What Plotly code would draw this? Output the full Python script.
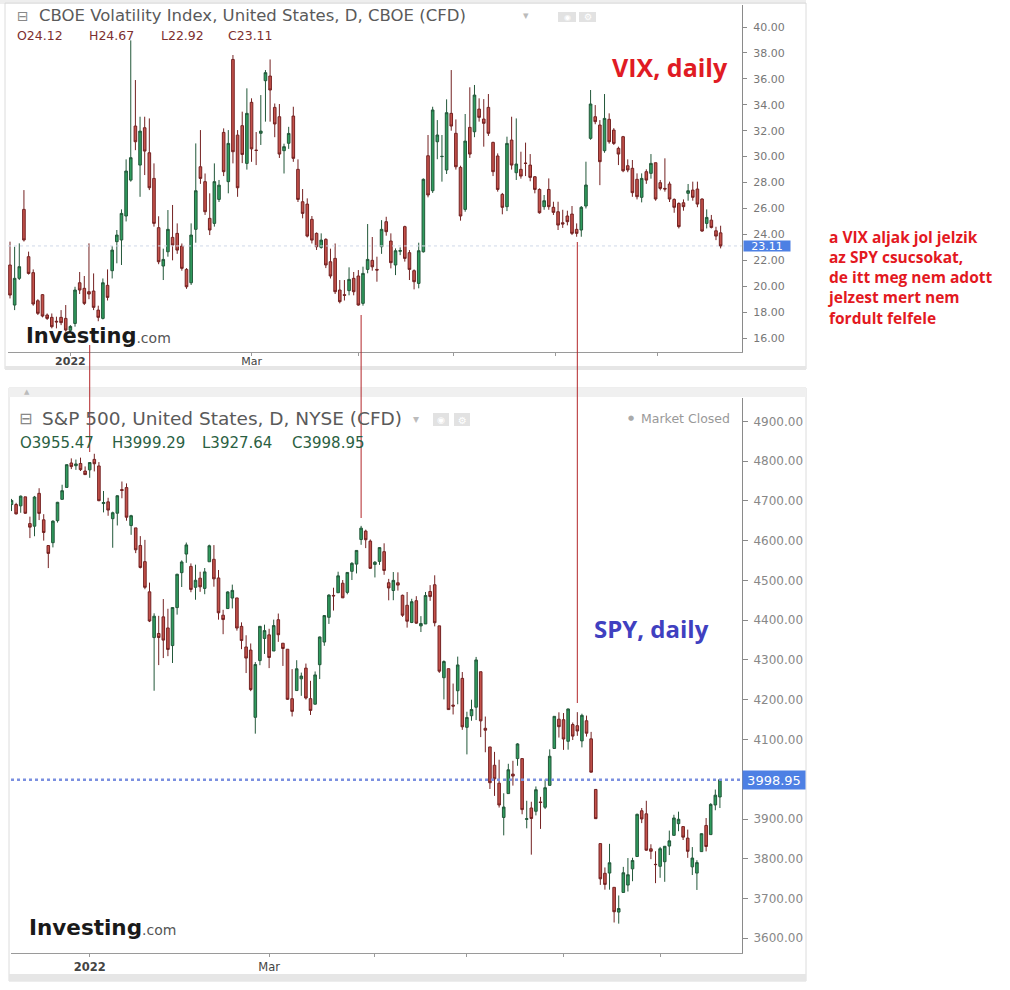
import plotly.graph_objects as go

W, H = 1010, 990

# --- VIX (CFD) daily candles, mid-Dec 2021 .. 21 Jul 2022 ---
VIX_OPEN = [
    21.64, 18.55, 20.61, 25.93, 22.28, 21.05, 18.88, 19.35, 17.78, 17.60,
    17.30, 17.60, 17.52, 16.60, 17.13, 20.27, 19.84, 19.58, 19.63, 18.16,
    17.52, 20.07, 21.20, 23.44, 23.57, 25.42, 28.19, 32.36, 29.35, 32.23,
    30.30, 28.32, 24.52, 21.56, 22.66, 23.77, 24.08, 23.10, 21.30, 20.27,
    24.39, 29.22, 28.07, 25.24, 24.85, 26.70, 31.87, 28.07, 37.50, 31.66,
    32.39, 29.48, 34.19, 30.50, 31.80, 35.86, 36.22, 33.80, 33.08, 30.46,
    31.03, 33.13, 29.02, 26.52, 26.34, 25.16, 24.08, 23.00, 23.62, 21.89,
    22.15, 19.71, 19.35, 19.66, 20.61, 20.79, 18.68, 21.30, 22.00, 21.30,
    23.05, 24.98, 23.49, 21.64, 22.70, 24.60, 22.59, 21.20, 20.22, 22.66,
    30.07, 27.37, 31.15, 30.00, 28.97, 33.34, 31.80, 29.17, 25.93, 32.26,
    31.92, 33.67, 32.90, 33.80, 31.10, 30.05, 27.09, 26.14, 31.28, 28.76,
    29.02, 29.50, 29.35, 28.45, 27.47, 26.14, 27.47, 26.09, 25.75, 24.90,
    25.42, 25.57, 24.39, 24.34, 26.19, 31.41, 33.08, 32.44, 30.46, 32.88,
    32.05, 30.64, 31.54, 29.30, 29.10, 28.25, 26.86, 28.84, 28.71, 29.53,
    27.99, 27.55, 27.89, 26.70, 26.39, 26.44, 27.17, 27.42, 27.50, 26.73,
    24.85, 25.10, 24.28, 24.12]
VIX_HIGH = [
    23.44, 23.05, 23.31, 27.42, 22.67, 21.30, 19.00, 19.40, 17.90, 17.90,
    17.65, 18.16, 18.55, 17.00, 19.96, 21.10, 20.79, 23.31, 20.99, 18.50,
    20.60, 21.30, 23.10, 24.34, 25.93, 29.79, 38.97, 35.91, 33.08, 33.08,
    32.95, 29.48, 25.40, 22.90, 25.88, 26.27, 24.85, 23.30, 21.40, 24.85,
    31.02, 32.05, 28.70, 27.17, 29.48, 28.20, 32.18, 32.05, 37.84, 32.05,
    33.47, 35.27, 34.50, 31.90, 34.75, 36.68, 37.50, 34.10, 34.06, 31.00,
    32.30, 33.85, 29.79, 27.50, 26.78, 25.42, 24.15, 24.08, 23.70, 22.90,
    23.30, 20.48, 20.48, 21.46, 21.10, 21.25, 21.51, 24.80, 23.80, 22.28,
    25.10, 25.36, 24.08, 22.92, 23.00, 24.67, 22.79, 21.30, 23.36, 28.32,
    31.67, 33.85, 32.82, 31.67, 34.42, 36.68, 32.87, 29.30, 33.29, 35.35,
    35.53, 34.50, 34.44, 34.83, 31.15, 30.25, 27.20, 31.54, 33.08, 32.95,
    30.38, 31.08, 30.20, 28.50, 27.55, 27.04, 28.32, 26.52, 26.52, 25.90,
    25.83, 26.19, 24.85, 26.19, 29.61, 35.14, 33.98, 32.82, 34.83, 33.34,
    32.20, 30.77, 31.60, 29.79, 29.74, 28.71, 28.71, 29.02, 30.20, 29.53,
    28.20, 29.87, 28.07, 26.78, 26.47, 26.70, 27.89, 28.07, 28.07, 26.78,
    25.93, 25.50, 24.59, 24.67]
VIX_LOW = [
    19.06, 18.16, 20.48, 23.45, 20.90, 18.50, 17.78, 17.60, 17.40, 16.75,
    16.75, 17.00, 16.50, 16.40, 16.88, 19.40, 18.55, 19.00, 18.16, 17.30,
    17.44, 18.90, 20.60, 21.77, 21.64, 25.00, 28.07, 30.50, 26.90, 28.58,
    27.42, 24.60, 21.70, 20.48, 22.28, 22.00, 22.50, 21.20, 19.80, 20.10,
    23.36, 27.90, 25.50, 23.95, 24.60, 26.50, 28.50, 27.17, 29.48, 26.90,
    29.50, 29.00, 29.60, 29.35, 30.90, 32.70, 32.70, 31.50, 29.90, 28.70,
    30.60, 29.60, 26.50, 25.24, 23.77, 23.30, 22.80, 22.90, 21.40, 20.60,
    19.40, 18.68, 18.90, 19.30, 19.30, 18.50, 18.50, 21.00, 21.20, 20.35,
    22.50, 23.90, 21.38, 20.86, 22.40, 21.90, 20.48, 19.76, 19.84, 22.60,
    26.86, 27.20, 29.80, 28.07, 28.66, 32.00, 29.00, 25.06, 25.75, 29.90,
    31.50, 32.70, 30.77, 31.60, 28.50, 27.30, 25.55, 25.80, 29.00, 28.20,
    28.30, 28.50, 28.10, 27.17, 25.60, 25.90, 25.90, 25.50, 24.34, 24.50,
    24.70, 23.95, 23.82, 23.82, 26.00, 31.30, 32.50, 27.80, 30.30, 31.00,
    30.90, 29.35, 28.80, 28.80, 26.90, 26.70, 26.47, 27.90, 28.30, 26.60,
    27.40, 27.30, 26.50, 25.67, 24.46, 25.83, 26.60, 26.60, 26.10, 24.20,
    24.46, 24.46, 23.56, 22.92]
VIX_CLOSE = [
    19.32, 20.61, 21.51, 23.57, 20.99, 18.63, 17.91, 17.70, 17.52, 16.88,
    17.25, 17.19, 16.62, 16.90, 19.71, 19.71, 18.68, 19.40, 18.37, 17.60,
    20.27, 19.14, 22.79, 23.95, 25.62, 28.89, 29.92, 31.15, 31.97, 30.43,
    27.60, 24.85, 21.89, 22.07, 24.39, 23.18, 22.79, 21.38, 19.96, 23.95,
    27.37, 28.32, 25.75, 24.34, 28.07, 27.80, 28.84, 31.02, 30.38, 27.60,
    30.17, 33.34, 30.60, 30.48, 31.97, 36.48, 35.14, 32.52, 30.20, 30.77,
    31.79, 29.87, 26.70, 25.62, 23.87, 23.56, 23.05, 23.56, 21.64, 20.79,
    19.58, 18.81, 19.30, 20.53, 19.58, 18.55, 20.99, 22.07, 21.50, 21.25,
    24.39, 24.21, 21.82, 22.74, 22.75, 22.15, 21.30, 20.35, 22.74, 28.25,
    27.04, 33.60, 31.67, 30.02, 33.39, 32.36, 29.22, 25.42, 31.20, 30.20,
    34.75, 33.03, 32.57, 31.80, 28.84, 27.47, 26.09, 31.02, 29.35, 29.43,
    28.50, 29.48, 28.40, 27.47, 25.67, 26.60, 26.14, 25.70, 24.72, 24.80,
    24.98, 24.08, 24.08, 26.09, 27.81, 34.06, 32.70, 29.61, 32.95, 31.15,
    31.02, 30.20, 28.91, 28.97, 27.22, 26.91, 28.32, 28.19, 29.48, 26.73,
    27.55, 27.50, 26.73, 26.09, 24.60, 26.14, 27.37, 26.86, 26.34, 24.26,
    25.31, 24.54, 23.87, 23.11]

# --- S&P 500 (CFD) daily candles, 8 Dec 2021 .. 21 Jul 2022 ---
SPX_OPEN = [
    4690.86, 4691.00, 4687.64, 4710.30, 4642.99, 4636.46, 4719.13, 4652.50, 4587.90, 4594.96,
    4650.36, 4703.96, 4733.99, 4795.49, 4788.64, 4794.23, 4775.21, 4778.14, 4804.51, 4787.99,
    4693.39, 4697.66, 4655.34, 4669.14, 4728.59, 4733.56, 4637.99, 4632.24, 4588.03, 4547.35,
    4471.38, 4356.32, 4366.64, 4408.43, 4380.58, 4336.19, 4431.79, 4519.57, 4566.39, 4535.41,
    4482.79, 4505.75, 4480.02, 4547.00, 4553.24, 4506.27, 4412.61, 4429.28, 4455.75, 4456.06,
    4384.57, 4332.74, 4324.93, 4155.77, 4298.38, 4354.17, 4363.14, 4322.56, 4401.31, 4342.12,
    4327.01, 4202.66, 4223.10, 4252.55, 4279.50, 4202.75, 4188.82, 4288.14, 4345.11, 4407.34,
    4462.40, 4469.10, 4493.10, 4469.98, 4522.91, 4541.09, 4602.86, 4624.20, 4599.02, 4540.32,
    4547.97, 4572.45, 4494.17, 4474.65, 4494.15, 4462.64, 4437.59, 4394.30, 4449.12, 4385.63,
    4390.63, 4472.26, 4489.17, 4385.83, 4255.34, 4278.14, 4186.52, 4222.58, 4253.75, 4130.61,
    4159.78, 4181.18, 4270.43, 4128.17, 4081.27, 4035.18, 3990.08, 3903.95, 3963.90, 4013.02,
    4052.00, 4051.98, 3899.00, 3927.76, 3919.42, 3942.94, 3929.59, 3984.60, 4077.43, 4151.09,
    4149.78, 4095.41, 4137.57, 4134.72, 4096.47, 4147.12, 4101.65, 3974.39, 3838.15, 3763.52,
    3764.05, 3728.18, 3665.90, 3715.31, 3733.89, 3774.71, 3805.63, 3920.76, 3913.00, 3825.09,
    3785.99, 3781.00, 3792.61, 3831.98, 3858.85, 3888.26, 3880.94, 3851.95, 3779.67, 3763.99,
    3818.00, 3883.79, 3860.73, 3935.32, 3955.47]
SPX_HIGH = [
    4705.06, 4695.26, 4713.57, 4710.30, 4660.47, 4712.60, 4731.99, 4666.70, 4587.90, 4651.14,
    4697.67, 4740.74, 4791.49, 4807.02, 4804.06, 4808.93, 4786.83, 4796.64, 4818.62, 4797.70,
    4725.01, 4707.95, 4673.02, 4714.13, 4748.83, 4744.13, 4665.13, 4632.24, 4611.55, 4602.11,
    4494.52, 4417.35, 4411.01, 4453.23, 4428.74, 4432.72, 4516.89, 4550.49, 4595.31, 4542.88,
    4539.66, 4521.86, 4531.32, 4590.03, 4588.92, 4526.33, 4426.22, 4472.77, 4489.55, 4456.06,
    4394.60, 4362.12, 4341.51, 4294.73, 4385.34, 4388.84, 4378.45, 4401.48, 4416.78, 4342.12,
    4327.01, 4276.94, 4299.40, 4268.28, 4291.01, 4247.57, 4271.05, 4358.90, 4412.67, 4465.40,
    4481.75, 4522.00, 4501.07, 4520.58, 4546.03, 4575.65, 4637.30, 4627.77, 4603.07, 4548.70,
    4583.50, 4593.45, 4503.94, 4521.16, 4520.41, 4464.35, 4471.00, 4453.92, 4460.46, 4410.31,
    4471.03, 4488.29, 4512.94, 4385.83, 4299.02, 4278.14, 4240.71, 4308.45, 4269.68, 4169.81,
    4200.10, 4307.66, 4270.43, 4157.69, 4081.27, 4068.82, 4049.09, 3964.80, 4038.88, 4046.46,
    4090.72, 4051.98, 3945.96, 3943.42, 3981.88, 3955.68, 3999.33, 4075.14, 4158.49, 4168.34,
    4166.54, 4177.51, 4142.67, 4168.78, 4164.86, 4160.14, 4119.10, 3974.39, 3838.15, 3778.18,
    3837.56, 3728.18, 3707.71, 3779.65, 3801.79, 3802.58, 3913.65, 3927.72, 3945.86, 3836.50,
    3818.99, 3829.82, 3832.19, 3870.91, 3910.63, 3918.50, 3880.94, 3873.41, 3829.44, 3796.41,
    3863.62, 3902.44, 3939.81, 3974.13, 3999.29]
SPX_LOW = [
    4674.52, 4665.98, 4670.24, 4667.60, 4606.52, 4611.22, 4651.89, 4600.22, 4531.10, 4583.16,
    4645.53, 4703.96, 4733.99, 4780.04, 4778.08, 4775.33, 4765.75, 4758.17, 4774.27, 4699.44,
    4671.26, 4662.74, 4582.24, 4638.27, 4706.71, 4650.29, 4614.75, 4568.70, 4530.20, 4477.95,
    4395.34, 4222.62, 4287.11, 4304.80, 4309.50, 4292.46, 4414.02, 4483.53, 4544.32, 4470.39,
    4451.50, 4471.47, 4465.40, 4547.00, 4484.31, 4401.41, 4364.84, 4429.28, 4429.68, 4373.81,
    4327.22, 4267.11, 4221.51, 4114.65, 4286.83, 4315.12, 4279.54, 4322.56, 4345.56, 4284.98,
    4199.85, 4157.87, 4223.10, 4209.80, 4200.49, 4161.72, 4187.90, 4251.99, 4335.65, 4390.57,
    4424.30, 4469.10, 4455.81, 4465.17, 4501.07, 4517.69, 4589.66, 4581.32, 4530.41, 4507.57,
    4539.21, 4514.17, 4450.04, 4450.30, 4474.60, 4408.38, 4381.34, 4392.70, 4390.77, 4370.30,
    4390.63, 4448.76, 4384.47, 4267.62, 4200.82, 4175.04, 4162.90, 4188.63, 4124.28, 4062.51,
    4147.08, 4148.91, 4106.01, 4067.91, 3975.48, 3958.17, 3928.82, 3858.87, 3963.90, 3983.99,
    4033.93, 3911.91, 3876.58, 3810.32, 3909.04, 3875.13, 3925.03, 3984.60, 4077.43, 4104.88,
    4073.85, 4074.37, 4098.67, 4109.18, 4080.19, 4107.20, 4017.17, 3900.16, 3734.30, 3722.30,
    3722.30, 3639.77, 3636.87, 3715.31, 3717.69, 3743.52, 3805.63, 3889.66, 3820.14, 3799.02,
    3738.67, 3752.10, 3742.06, 3809.37, 3858.85, 3869.34, 3847.22, 3802.36, 3759.07, 3721.56,
    3817.18, 3818.63, 3860.73, 3922.03, 3927.64]
SPX_CLOSE = [
    4701.21, 4667.45, 4712.02, 4668.97, 4634.09, 4709.85, 4668.67, 4620.64, 4568.02, 4649.23,
    4696.56, 4725.79, 4791.19, 4786.35, 4793.06, 4778.73, 4766.18, 4796.56, 4793.54, 4700.58,
    4696.05, 4677.03, 4670.29, 4713.07, 4726.35, 4659.03, 4662.85, 4577.11, 4532.76, 4482.73,
    4397.94, 4410.13, 4356.45, 4349.93, 4326.51, 4431.85, 4515.55, 4546.54, 4589.38, 4477.44,
    4500.53, 4483.87, 4521.54, 4587.18, 4504.08, 4418.64, 4401.67, 4471.07, 4475.01, 4380.26,
    4348.87, 4304.76, 4225.50, 4288.70, 4384.65, 4373.94, 4306.26, 4386.54, 4363.49, 4328.87,
    4201.09, 4170.70, 4277.88, 4259.52, 4204.31, 4173.11, 4262.45, 4357.86, 4411.67, 4463.12,
    4461.18, 4511.61, 4456.24, 4520.16, 4543.06, 4575.52, 4631.60, 4602.45, 4530.41, 4545.86,
    4582.64, 4525.12, 4481.15, 4500.21, 4488.28, 4412.53, 4397.45, 4446.59, 4392.59, 4391.69,
    4462.21, 4459.45, 4393.66, 4271.78, 4296.12, 4175.20, 4183.96, 4287.50, 4131.93, 4155.38,
    4175.48, 4300.17, 4146.87, 4123.34, 3991.24, 4001.05, 3935.18, 3930.08, 4023.89, 4008.01,
    4088.85, 3923.68, 3900.79, 3901.36, 3973.75, 3941.48, 3978.73, 4057.84, 4158.24, 4132.15,
    4101.23, 4176.82, 4108.54, 4121.43, 4160.68, 4115.77, 4017.82, 3900.86, 3749.63, 3735.48,
    3789.99, 3666.77, 3674.84, 3764.79, 3759.89, 3795.73, 3911.74, 3900.11, 3821.55, 3818.83,
    3785.38, 3825.33, 3831.39, 3845.08, 3902.62, 3899.38, 3854.43, 3818.80, 3801.78, 3790.38,
    3863.16, 3830.85, 3936.69, 3959.90, 3998.95]

# x-axis ticks (candle index -> label); unlabeled month ticks keep an empty label
VIX_TICK_POS = [13, 52, 75, 95.5, 117.5, 139.3]
VIX_TICK_TEXT = ["<b>2022</b>", "Mar", "", "", "", ""]
SPX_TICK_POS = [17, 56, 79, 99, 120, 141]
SPX_TICK_TEXT = ["<b>2022</b>", "Mar", "", "", "", ""]
# right-hand price scale of the S&P panel (the 4000 label sits under the last-price tag)
SPX_PRICE_TICKS = [3600, 3700, 3800, 3900, 4100, 4200, 4300, 4400, 4500, 4600, 4700, 4800, 4900]

# hand-drawn red marker lines: S&P candle index and their top/bottom on the page (px)
MARK_IDX = [17, 76, 123]
MARK_SPAN_PX = [(345, 452), (315, 518), (242, 703)]

NOTE_LINES = ["a VIX aljak jol jelzik", "az SPY csucsokat,", "de itt meg nem adott",
              "jelzest mert nem", "fordult felfele"]


def pxx(x):
    return x / W


def pxy(y):
    return 1 - y / H


def txt(x, y, text, size, color, family="DejaVu Sans", xanchor="left", **kw):
    return dict(x=pxx(x), y=pxy(y), xref="paper", yref="paper", text=text, showarrow=False,
                xanchor=xanchor, yanchor="middle", font=dict(size=size, color=color, family=family), **kw)


def box(x0, y0, x1, y1, fill=None, line=None):
    return dict(type="rect", xref="paper", yref="paper", x0=pxx(x0), x1=pxx(x1), y0=pxy(y1), y1=pxy(y0),
                fillcolor=fill or "rgba(0,0,0,0)", line=dict(color=line or "rgba(0,0,0,0)", width=1),
                layer="below")


inc = dict(line=dict(color="#23583a", width=1), fillcolor="#2f9c5e")
dec = dict(line=dict(color="#742222", width=1), fillcolor="#c4524b")

fig = go.Figure()
fig.add_trace(go.Candlestick(x=list(range(len(VIX_OPEN))), open=VIX_OPEN, high=VIX_HIGH, low=VIX_LOW,
                             close=VIX_CLOSE, increasing=inc, decreasing=dec, xaxis="x", yaxis="y",
                             showlegend=False))
fig.add_trace(go.Candlestick(x=list(range(len(SPX_OPEN))), open=SPX_OPEN, high=SPX_HIGH, low=SPX_LOW,
                             close=SPX_CLOSE, increasing=inc, decreasing=dec, xaxis="x2", yaxis="y2",
                             showlegend=False))

axis_common = dict(showgrid=False, zeroline=False, showline=True, fixedrange=True)
fig.update_layout(
    width=W, height=H, margin=dict(l=0, r=0, t=0, b=0, pad=0),
    paper_bgcolor="white", plot_bgcolor="rgba(0,0,0,0)", showlegend=False, boxgap=0.2,
    font=dict(family="DejaVu Sans", color="#666"),
    xaxis=dict(axis_common, domain=[pxx(8), pxx(742)], range=[-0.43, 157.6], anchor="y",
               linecolor="#9a9a9a", ticks="outside", ticklen=3, tickcolor="#9a9a9a",
               tickvals=VIX_TICK_POS, ticktext=VIX_TICK_TEXT, tickfont=dict(size=11, color="#444"),
               ticklabelstandoff=-4, rangeslider=dict(visible=False)),
    yaxis=dict(axis_common, domain=[pxy(351.7), pxy(5)], range=[14.95, 41.70], anchor="x", side="right",
               dtick=2, tick0=0, tickformat=".2f", linecolor="#8a8a8a", ticks="outside", ticklen=4,
               tickcolor="#8a8a8a", tickfont=dict(size=11, color="#777"), ticklabelstandoff=4),
    xaxis2=dict(axis_common, domain=[pxx(11), pxx(742)], range=[-0.11, 158.8], anchor="y2",
                linecolor="#9a9a9a", ticks="outside", ticklen=3, tickcolor="#9a9a9a",
                tickvals=SPX_TICK_POS, ticktext=SPX_TICK_TEXT, tickfont=dict(size=11.5, color="#444"),
                rangeslider=dict(visible=False)),
    yaxis2=dict(axis_common, domain=[pxy(953), pxy(398)], range=[3563.0, 4958.9], anchor="x2", side="right",
                tickvals=SPX_PRICE_TICKS, tickformat=".2f", linecolor="#8a8a8a", ticks="outside", ticklen=5,
                tickcolor="#8a8a8a", tickfont=dict(size=12, color="#888"), ticklabelstandoff=3),
)

shapes = [
    # panel frames and toolbar strips
    box(0, 0, 806, 4, fill="#eeeeee"),
    box(5, 3, 806, 369, line="#dcdcdc"),
    box(5, 366, 806, 370, fill="#e6e6e6"),
    box(9, 388, 806, 981, line="#dcdcdc"),
    box(9, 388, 806, 397, fill="#f0f0f0"),
    box(9, 974, 806, 981, fill="#e6e6e6"),
    # eye / gear buttons
    box(558, 12, 576, 22, fill="#e2e2e2"),
    box(579, 12, 596, 22, fill="#e2e2e2"),
    box(433, 413, 449, 426, fill="#e2e2e2"),
    box(454, 413, 470, 426, fill="#e2e2e2"),
    # last-price reference lines
    dict(type="line", xref="paper", yref="y", x0=pxx(8), x1=pxx(742), y0=VIX_CLOSE[-1], y1=VIX_CLOSE[-1],
         line=dict(color="#cfd8e8", width=1, dash="dot")),
    dict(type="line", xref="paper", yref="y2", x0=pxx(11), x1=pxx(742), y0=SPX_CLOSE[-1], y1=SPX_CLOSE[-1],
         line=dict(color="#7b90e0", width=2.5, dash="dot")),
]
for idx, (top, bottom) in zip(MARK_IDX, MARK_SPAN_PX):
    shapes.append(dict(type="line", xref="x2", yref="paper", x0=idx, x1=idx, y0=pxy(bottom), y1=pxy(top),
                       line=dict(color="#b3262a", width=1)))

ann = [
    # top panel header
    txt(15, 16, "⊟", 14, "#888"),
    txt(37, 16, "CBOE Volatility Index, United States, D, CBOE (CFD)", 16.5, "#5a5a5a"),
    txt(521, 16, "▾", 11, "#bbb"),
    txt(567, 17, "◉", 8, "white", xanchor="center"),
    txt(587.5, 17, "⚙", 9, "white", xanchor="center"),
    txt(15, 35, f"O{VIX_OPEN[-1]:.2f}", 12.5, "#7d3030"),
    txt(87, 35, f"H{VIX_HIGH[-1]:.2f}", 12.5, "#7d3030"),
    txt(159, 35, f"L{VIX_LOW[-1]:.2f}", 12.5, "#7d3030"),
    txt(226, 35, f"C{VIX_CLOSE[-1]:.2f}", 12.5, "#7d3030"),
    txt(24, 336, "<b>Investing</b><span style='font-size:14px;color:#555;font-weight:normal'>.com</span>",
        21, "#1a1a1a"),
    txt(670, 67, "<b>VIX, daily</b>", 25, "#e01b24", family="Open Sans", xanchor="center"),
    # bottom panel header
    txt(27, 392, "▲", 7, "#bbb", xanchor="center"),
    txt(17, 419, "⊟", 16, "#888"),
    txt(40, 419, "S&P 500, United States, D, NYSE (CFD)", 18.5, "#5a5a5a"),
    txt(411, 419, "▾", 12, "#bbb"),
    txt(441, 420, "◉", 9, "white", xanchor="center"),
    txt(462, 420, "⚙", 10, "white", xanchor="center"),
    txt(18, 443, f"O{SPX_OPEN[-1]:.2f}", 15, "#2b5f43"),
    txt(110, 443, f"H{SPX_HIGH[-1]:.2f}", 15, "#2b5f43"),
    txt(200, 443, f"L{SPX_LOW[-1]:.2f}", 15, "#2b5f43"),
    txt(290, 443, f"C{SPX_CLOSE[-1]:.2f}", 15, "#2b5f43"),
    txt(626, 418, "●", 7, "#aaa"),
    txt(639, 418, "Market Closed", 12.5, "#999"),
    txt(27, 927, "<b>Investing</b><span style='font-size:14px;color:#555;font-weight:normal'>.com</span>",
        21.5, "#1a1a1a"),
    txt(651, 628, "<b>SPY, daily</b>", 24, "#4040c0", family="Open Sans", xanchor="center"),
    # last-price tags
    dict(x=pxx(742.5), y=VIX_CLOSE[-1], xref="paper", yref="y", text=f"{VIX_CLOSE[-1]:.2f}", showarrow=False,
         xanchor="left", yanchor="middle", bgcolor="#4d80e4", width=46, height=10, borderpad=0,
         font=dict(size=11, color="white", family="DejaVu Sans")),
    dict(x=pxx(741.5), y=SPX_CLOSE[-1], xref="paper", yref="y2", text=f"{SPX_CLOSE[-1]:.2f}", showarrow=False,
         xanchor="left", yanchor="middle", bgcolor="#4d80e4", width=62, height=18, borderpad=0,
         font=dict(size=13, color="white", family="DejaVu Sans")),
    # red comment on the right, one block of lines
    txt(826, 277, "<br>".join(f"<b>{line}</b>" for line in NOTE_LINES), 15.5, "#e3191f",
        family="Open Sans", align="left"),
]

fig.update_layout(shapes=shapes, annotations=ann)

fig.write_html("out.html", config={"displayModeBar": False},
               post_script="document.body.style.margin='0';document.body.style.overflow='hidden';")
